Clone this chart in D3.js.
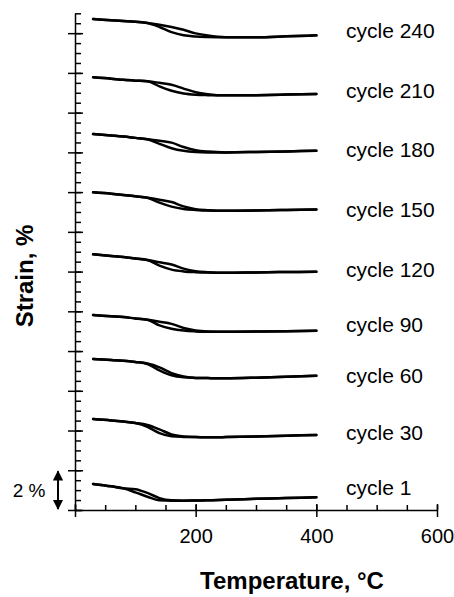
<!DOCTYPE html>
<html>
<head>
<meta charset="utf-8">
<script src="https://cdn.jsdelivr.net/npm/d3@7"></script>
<style>
  html, body { margin: 0; padding: 0; background: #fff; }
  svg { display: block; }
</style>
</head>
<body>
<div id="chart"></div>
<script>
// ---- data ----
const tempC = [30, 60, 80, 100, 120, 140, 160, 180, 200, 220, 250, 300, 350, 400];
const cycles = ["cycle 1", "cycle 30", "cycle 60", "cycle 90", "cycle 120", "cycle 150", "cycle 180", "cycle 210", "cycle 240"];
// strain (%) on heating (upper branch, transforms at higher temperature)
const heating = [
  [1.31, 1.19, 1.09, 1.05, 0.86, 0.60, 0.49, 0.47, 0.48, 0.49, 0.52, 0.56, 0.60, 0.64],
  [4.58, 4.51, 4.45, 4.38, 4.28, 4.06, 3.80, 3.70, 3.67, 3.66, 3.67, 3.70, 3.74, 3.78],
  [7.60, 7.55, 7.51, 7.45, 7.37, 7.18, 6.89, 6.72, 6.65, 6.64, 6.63, 6.66, 6.71, 6.76],
  [9.81, 9.75, 9.71, 9.64, 9.58, 9.48, 9.37, 9.16, 9.04, 8.99, 8.97, 8.98, 9.00, 9.02],
  [12.87, 12.79, 12.73, 12.66, 12.58, 12.47, 12.36, 12.15, 12.02, 11.97, 11.94, 11.96, 11.98, 11.99],
  [15.99, 15.92, 15.86, 15.79, 15.72, 15.62, 15.50, 15.28, 15.14, 15.09, 15.06, 15.07, 15.10, 15.13],
  [18.92, 18.85, 18.80, 18.73, 18.66, 18.58, 18.49, 18.27, 18.11, 18.04, 18.00, 18.02, 18.05, 18.08],
  [21.78, 21.71, 21.65, 21.61, 21.58, 21.50, 21.40, 21.21, 21.03, 20.93, 20.87, 20.88, 20.91, 20.94],
  [24.71, 24.65, 24.61, 24.57, 24.51, 24.42, 24.31, 24.17, 23.99, 23.88, 23.80, 23.80, 23.84, 23.89]
];
// strain (%) on cooling (lower branch)
const cooling = [
  [1.31, 1.19, 1.09, 0.89, 0.67, 0.49, 0.47, 0.47, 0.48, 0.49, 0.52, 0.56, 0.60, 0.64],
  [4.58, 4.51, 4.45, 4.38, 4.19, 3.87, 3.71, 3.68, 3.67, 3.66, 3.67, 3.70, 3.74, 3.78],
  [7.60, 7.55, 7.51, 7.45, 7.35, 7.03, 6.78, 6.68, 6.65, 6.64, 6.63, 6.66, 6.71, 6.76],
  [9.81, 9.75, 9.71, 9.64, 9.58, 9.29, 9.12, 9.03, 8.99, 8.97, 8.97, 8.98, 9.00, 9.02],
  [12.87, 12.79, 12.73, 12.66, 12.58, 12.30, 12.10, 12.01, 11.97, 11.95, 11.94, 11.96, 11.98, 11.99],
  [15.99, 15.92, 15.86, 15.79, 15.72, 15.47, 15.27, 15.15, 15.10, 15.07, 15.06, 15.07, 15.10, 15.13],
  [18.92, 18.85, 18.80, 18.73, 18.66, 18.43, 18.21, 18.08, 18.02, 18.00, 18.00, 18.02, 18.05, 18.08],
  [21.78, 21.71, 21.65, 21.61, 21.58, 21.32, 21.10, 20.96, 20.90, 20.88, 20.87, 20.88, 20.91, 20.94],
  [24.71, 24.65, 24.61, 24.57, 24.51, 24.31, 24.05, 23.89, 23.83, 23.81, 23.80, 23.80, 23.84, 23.89]
];
// strain level at which each cycle label is centred
const labelStrain = [1.11, 3.88, 6.74, 9.31, 12.08, 15.10, 18.12, 21.09, 24.11];
const xMajor = [0, 200, 400, 600];
const xMinor = d3.range(0, 601, 50);
const yMajor = d3.range(0, 25, 2);
const yMinor = d3.range(0, 25.01, 0.5);
const scaleBar = [0, 2]; // "2 %" bar
const xTitle = "Temperature, °C";
const yTitle = "Strain, %";

// ---- chart ----
const W = 454, H = 597;
const svg = d3.select("#chart").append("svg").attr("width", W).attr("height", H);
const x = d3.scaleLinear().domain([0, 600]).range([75, 437]);
const y = d3.scaleLinear().domain([0, 25]).range([510, 13.3]);
const font = "'Liberation Sans', Arial, sans-serif";

// x axis: minor ticks (up)
svg.append("g").attr("transform", `translate(0,${y(0)})`)
  .call(d3.axisTop(x).tickValues(xMinor).tickSize(5).tickSizeOuter(0).tickFormat(""))
  .call(g => g.select(".domain").remove())
  .call(g => g.selectAll(".tick line").attr("stroke", "#000").attr("stroke-width", 1.5));
// x axis: major ticks (crossing) + labels
svg.append("g").attr("transform", `translate(0,${y(0)})`)
  .call(d3.axisBottom(x).tickValues(xMajor).tickSize(7).tickSizeOuter(0)
    .tickFormat(d => d === 0 ? "" : d))
  .call(g => g.select(".domain").attr("stroke", "#000").attr("stroke-width", 1.5))
  .call(g => g.selectAll(".tick line").attr("y1", -6).attr("stroke", "#000").attr("stroke-width", 1.5))
  .call(g => g.selectAll(".tick text").attr("y", 33).attr("dy", 0)
    .attr("font-family", font).attr("font-size", 20).attr("fill", "#000"));

// y axis: minor ticks (right)
svg.append("g").attr("transform", `translate(${x(0)},0)`)
  .call(d3.axisRight(y).tickValues(yMinor).tickSize(6).tickSizeOuter(0).tickFormat(""))
  .call(g => g.select(".domain").attr("stroke", "#000").attr("stroke-width", 1.5))
  .call(g => g.selectAll(".tick line").attr("stroke", "#000").attr("stroke-width", 1.5));
// y axis: major ticks (crossing)
svg.append("g").attr("transform", `translate(${x(0)},0)`)
  .call(d3.axisRight(y).tickValues(yMajor).tickSize(8).tickSizeOuter(0).tickFormat(""))
  .call(g => g.select(".domain").remove())
  .call(g => g.selectAll(".tick line").attr("x1", -7).attr("stroke", "#000").attr("stroke-width", 1.5));

// curves
const line = d3.line().x((d, i) => x(tempC[i])).y(d => y(d)).curve(d3.curveMonotoneX);
const gC = svg.append("g").attr("fill", "none").attr("stroke", "#000")
  .attr("stroke-width", 2.5).attr("stroke-linecap", "round").attr("stroke-linejoin", "round");
cycles.forEach((c, i) => {
  gC.append("path").attr("d", line(heating[i]));
  gC.append("path").attr("d", line(cooling[i]));
});

// cycle labels
svg.append("g").selectAll("text").data(cycles).join("text")
  .attr("x", 346).attr("y", (d, i) => y(labelStrain[i])).attr("dy", "0.35em")
  .attr("font-family", font).attr("font-size", 21).attr("fill", "#000")
  .text(d => d);

// 2 % scale bar (double arrow)
const defs = svg.append("defs");
defs.append("marker").attr("id", "ah").attr("viewBox", "0 0 10 10").attr("refX", 9).attr("refY", 5)
  .attr("markerWidth", 5.2).attr("markerHeight", 5.2).attr("markerUnits", "strokeWidth").attr("orient", "auto-start-reverse")
  .append("path").attr("d", "M0,0 L10,5 L0,10 Z").attr("fill", "#000");
svg.append("line").attr("x1", 58).attr("x2", 58)
  .attr("y1", y(scaleBar[0]) - 1).attr("y2", y(scaleBar[1]) + 1)
  .attr("stroke", "#000").attr("stroke-width", 2)
  .attr("marker-start", "url(#ah)").attr("marker-end", "url(#ah)");
svg.append("text").attr("x", 29).attr("y", (y(scaleBar[0]) + y(scaleBar[1])) / 2).attr("dy", "0.35em")
  .attr("text-anchor", "middle").attr("font-family", font).attr("font-size", 19).text("2 %");

// axis titles
svg.append("text").attr("x", 292).attr("y", 589).attr("text-anchor", "middle")
  .attr("font-family", font).attr("font-weight", "bold").attr("font-size", 24).text(xTitle);
svg.append("text").attr("transform", `translate(33,276) rotate(-90)`).attr("text-anchor", "middle")
  .attr("font-family", font).attr("font-weight", "bold").attr("font-size", 24).text(yTitle);
</script>
</body>
</html>
